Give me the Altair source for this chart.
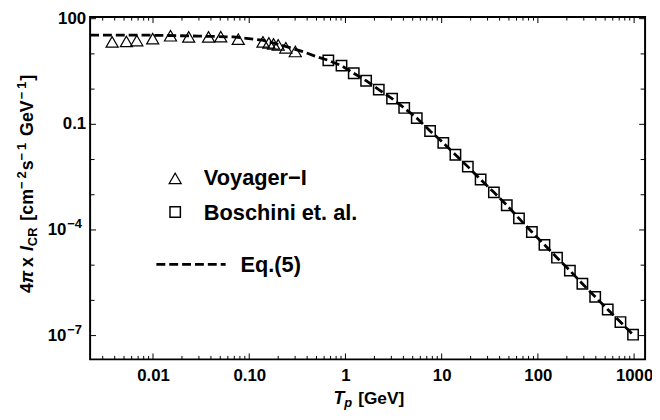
import math
import altair as alt
import pandas as pd

# ---------------- data ----------------
voy_T = [0.00376, 0.00529, 0.00679, 0.00993, 0.0152, 0.0235, 0.0378, 0.0506,
         0.0769, 0.139, 0.160, 0.179, 0.200, 0.240, 0.301]
voy_I = [22.0, 22.7, 23.9, 27.2, 32.8, 30.4, 30.4, 31.0,
         26.2, 22.0, 20.6, 19.3, 18.1, 14.9, 11.7]

bos_T = [0.664, 0.91, 1.22, 1.64, 2.22, 3.05, 4.08, 5.51, 7.58, 10.4, 13.9, 18.7,
         25.4, 34.9, 47.5, 63.6, 86.6, 117, 158, 215, 290, 394, 532, 721, 975]
bos_I = [6.55, 4.64, 2.82, 1.73, 0.964, 0.538, 0.292, 0.150, 0.0648, 0.0297,
         0.0137, 0.00629, 0.00271, 0.00117, 5.04e-4, 2.13e-4, 8.77e-5, 3.78e-5,
         1.63e-5, 7.01e-6, 2.96e-6, 1.26e-6, 5.5e-7, 2.42e-7, 1.06e-7]

eq5_T = [0.00222, 0.01, 0.03, 0.0685, 0.137, 0.229, 0.367, 0.503, 0.664, 0.91,
         1.22, 1.64, 2.22, 3.05, 4.08, 5.51, 7.58, 10.4, 13.9, 18.7, 25.4, 34.9,
         47.5, 63.6, 86.6, 117, 158, 215, 290, 394, 532, 721, 975]
eq5_I = [33.9, 33.9, 32.0, 30.4, 24.5, 16.9, 11.5, 8.3, 6.55, 4.64,
         2.82, 1.73, 0.964, 0.538, 0.292, 0.150, 0.0648, 0.0297, 0.0137, 0.00629,
         0.00271, 0.00117, 5.04e-4, 2.13e-4, 8.77e-5, 3.78e-5, 1.63e-5, 7.01e-6,
         2.96e-6, 1.26e-6, 5.5e-7, 2.42e-7, 1.06e-7]

x_major = [0.01, 0.1, 1, 10, 100, 1000]
x_major_labels = ["0.01", "0.10", "1", "10", "100", "1000"]
y_major = [100, 0.1, 1e-4, 1e-7]
y_major_base = ["100", "0.1", "10", "10"]
y_major_exp = ["", "", "\u22124", "\u22127"]
y_minor = [10, 1, 0.01, 1e-3, 1e-5, 1e-6]
legend_labels = ["Voyager\u2212I", "Boschini et. al.", "Eq.(5)"]

# ---------------- layout ----------------
X_DOMAIN = [0.00222, 1300]
Y_DOMAIN = [2.11e-8, 111]
W, H = 561, 346
FONT = "Liberation Sans"
BLACK = "#000000"

xs = alt.Scale(type="log", domain=X_DOMAIN, nice=False)
ys = alt.Scale(type="log", domain=Y_DOMAIN, nice=False)

expr = ""
for v, lab in zip(x_major, x_major_labels):
    expr += f"abs(log(datum.value)/LN10 - ({math.log10(v)})) < 0.01 ? '{lab}' : "
expr += "''"

xaxis = alt.Axis(values=x_major, labelExpr=expr, ticks=False, domain=False, grid=False,
                 title=None, labelFont=FONT, labelFontSize=17, labelFontWeight="bold",
                 labelColor=BLACK, labelPadding=8, labelFlush=False, labelOverlap=False)


def X(field):
    return alt.X(field, type="quantitative", scale=xs, axis=xaxis)


def Y(field):
    return alt.Y(field, type="quantitative", scale=ys, axis=None)


x_minor = [k * 10.0 ** e for e in range(-3, 4) for k in range(2, 10)
           if X_DOMAIN[0] < k * 10.0 ** e < X_DOMAIN[1]]

layers = []

# ticks (inward, on all four sides)
xmaj = pd.DataFrame({"v": x_major})
xmin = pd.DataFrame({"v": x_minor})
ymaj = pd.DataFrame({"v": y_major, "base": y_major_base, "exp": y_major_exp})
ymin = pd.DataFrame({"v": y_minor})

for df, ln in ((xmaj, 6), (xmin, 3.5)):
    layers.append(alt.Chart(df).mark_rule(color=BLACK, strokeWidth=1).encode(
        x=X("v"), y=alt.value(H), y2=alt.value(H - ln)))
    layers.append(alt.Chart(df).mark_rule(color=BLACK, strokeWidth=1).encode(
        x=X("v"), y=alt.value(0), y2=alt.value(ln)))
for df, ln in ((ymaj, 6), (ymin, 4.5)):
    layers.append(alt.Chart(df).mark_rule(color=BLACK, strokeWidth=1).encode(
        y=Y("v"), x=alt.value(0), x2=alt.value(ln)))
    layers.append(alt.Chart(df).mark_rule(color=BLACK, strokeWidth=1).encode(
        y=Y("v"), x=alt.value(W), x2=alt.value(W - ln)))

# y tick labels with superscript exponents
layers.append(alt.Chart(ymaj).transform_filter("datum.exp == ''").mark_text(
    align="right", baseline="middle", font=FONT, fontSize=17, fontWeight="bold",
    color=BLACK).encode(y=Y("v"), x=alt.value(-4), text="base:N"))
layers.append(alt.Chart(ymaj).transform_filter("datum.exp != ''").mark_text(
    align="right", baseline="middle", font=FONT, fontSize=17, fontWeight="bold",
    color=BLACK).encode(y=Y("v"), x=alt.value(-24), text="base:N"))
layers.append(alt.Chart(ymaj).transform_filter("datum.exp != ''").mark_text(
    align="left", baseline="middle", font=FONT, fontSize=13, fontWeight="bold",
    color=BLACK, dy=-6).encode(y=Y("v"), x=alt.value(-23), text="exp:N"))

# data
eq5_df = pd.DataFrame({"T": eq5_T, "I": eq5_I})
voy_df = pd.DataFrame({"T": voy_T, "I": voy_I})
bos_df = pd.DataFrame({"T": bos_T, "I": bos_I})

layers.append(alt.Chart(voy_df).mark_point(shape="triangle-up", size=150, filled=False,
                                           color=BLACK, strokeWidth=1.2, opacity=1).encode(
    x=X("T"), y=Y("I")))
layers.append(alt.Chart(bos_df).mark_point(shape="square", size=110, filled=False,
                                           color=BLACK, strokeWidth=1.5, opacity=1).encode(
    x=X("T"), y=Y("I")))
layers.append(alt.Chart(eq5_df).mark_line(color=BLACK, strokeWidth=2.8,
                                          strokeDash=[9, 4]).encode(x=X("T"), y=Y("I")))

# legend
lg = pd.DataFrame({"t": legend_labels})
layers.append(alt.Chart(lg).transform_filter(f"datum.t == '{legend_labels[0]}'").mark_point(
    shape="triangle-up", size=150, filled=False, color=BLACK, strokeWidth=1.2, opacity=1).encode(
    x=alt.value(86), y=alt.value(163)))
layers.append(alt.Chart(lg).transform_filter(f"datum.t == '{legend_labels[1]}'").mark_point(
    shape="square", size=110, filled=False, color=BLACK, strokeWidth=1.5, opacity=1).encode(
    x=alt.value(86), y=alt.value(197)))
layers.append(alt.Chart(lg).transform_filter(f"datum.t == '{legend_labels[2]}'").mark_rule(
    color=BLACK, strokeWidth=2.8, strokeDash=[9, 4]).encode(
    x=alt.value(67), x2=alt.value(137), y=alt.value(250)))
for lab, yy, xx in ((legend_labels[0], 163, 115), (legend_labels[1], 198, 115),
                    (legend_labels[2], 251, 152)):
    layers.append(alt.Chart(lg).transform_filter(f"datum.t == '{lab}'").mark_text(
        align="left", baseline="middle", font=FONT, fontSize=22, fontWeight="bold",
        color=BLACK).encode(x=alt.value(xx), y=alt.value(yy), text="t:N"))

# rich axis titles built from segments (text, size, style, shift, gap after)
WID = {'[': 333, ']': 333, '.': 278, '\u2212': 584, 'x': 556,
       'c': 556, 'm': 889, 's': 556, 'e': 556, 'G': 778, 'V': 667, 'C': 722,
       'R': 722, 'I': 278, 'T': 611, 'p': 611, '\u03c0': 580}


def tw(s, size):
    return sum(WID.get(c, 556) for c in s) / 1000.0 * size


ytitle = [("4", 18, "normal", 0, 0), ("\u03c0", 18, "italic", 0, 6),
          ("x", 18, "normal", 0, 6), ("I", 18, "italic", 0, 0),
          ("CR", 13, "normal", 4, 7), ("[cm", 18, "normal", 0, 0),
          ("\u2212", 13, "normal", -7, 3), ("2", 13, "normal", -7, 1),
          ("s", 18, "normal", 0, 0),
          ("\u2212", 13, "normal", -7, 3), ("1", 13, "normal", -7, 7),
          ("GeV", 18, "normal", 0, 1),
          ("\u2212", 13, "normal", -7, 3), ("1", 13, "normal", -7, 1),
          ("]", 18, "normal", 0, 0)]
pos = 279.0
for txt, sz, st, sh, gap in ytitle:
    layers.append(alt.Chart(pd.DataFrame({"t": [txt]})).mark_text(
        angle=270, align="left", baseline="alphabetic", font=FONT, fontSize=sz,
        fontWeight="bold", fontStyle=st, color=BLACK).encode(
        x=alt.value(-58 + sh), y=alt.value(pos), text="t:N"))
    pos -= tw(txt, sz) + gap

xtitle = [("T", 18, "italic", 0, 0), ("p", 13, "italic", 3, 6),
          ("[GeV]", 17.5, "normal", 0, 0)]
pos = 246.0
for txt, sz, st, sh, gap in xtitle:
    layers.append(alt.Chart(pd.DataFrame({"t": [txt]})).mark_text(
        align="left", baseline="alphabetic", font=FONT, fontSize=sz,
        fontWeight="bold", fontStyle=st, color=BLACK).encode(
        x=alt.value(pos), y=alt.value(391 + sh), text="t:N"))
    pos += tw(txt, sz) + gap

chart = alt.layer(*layers).properties(
    width=W, height=H,
    autosize=alt.AutoSizeParams(type="none"),
    padding={"left": 83, "top": 7, "right": 7, "bottom": 51},
    background="white",
).configure_view(stroke=BLACK, strokeWidth=2)

chart.save("out.html", embed_options={"renderer": "svg", "actions": False})
